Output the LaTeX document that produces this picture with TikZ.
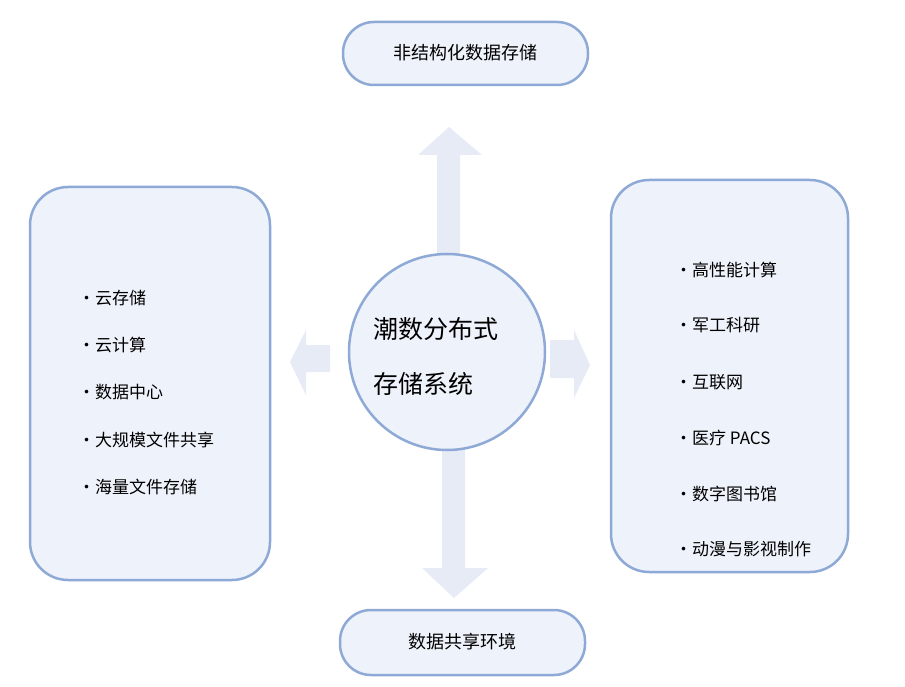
\documentclass[tikz,border=0pt]{standalone}
\usepackage{fontspec}
\setmainfont{Noto Sans CJK SC}
\begin{document}
\begin{tikzpicture}[x=1pt,y=-1pt,
  box/.style={draw=bd,line width=2.5pt,fill=fl,rounded corners=38pt},
  pill/.style={draw=bd,line width=2.5pt,fill=fl,rounded corners=31pt},
  arr/.style={fill=ar,draw=none},
  item/.style={anchor=west,font=\fontsize{17}{20}\selectfont,inner sep=0pt},
  lbl/.style={font=\fontsize{18}{22}\selectfont,inner sep=0pt}]
\definecolor{bd}{HTML}{8EA9D6}
\definecolor{fl}{HTML}{EEF2FA}
\definecolor{ar}{HTML}{E6EBF6}
\useasboundingbox (0,0) rectangle (905,687);
\fill[white] (0,0) rectangle (905,687);
% arrows
\fill[arr] (437,260) -- (437,155) -- (418,155) -- (449,127) -- (482,155) -- (460,155) -- (460,260) -- cycle;
\fill[arr] (442,440) -- (442,568) -- (422,568) -- (454,598) -- (488,568) -- (465,568) -- (465,440) -- cycle;
\fill[arr] (330,345) -- (306,345) -- (306,330) -- (290,362) -- (306,395) -- (306,372) -- (330,372) -- cycle;
\fill[arr] (550,340) -- (574,340) -- (574,330) -- (590,365) -- (574,398) -- (574,378) -- (550,378) -- cycle;
% boxes
\draw[box] (30,187) rectangle (270,580);
\draw[box] (611,180) rectangle (848,572);
\draw[pill] (343,22) rectangle (588,85);
\draw[pill] (340,610) rectangle (585,675);
\node[lbl] (top) at (465.5,53) {非结构化数据存储};
\node[lbl] (bot) at (462.5,642) {数据共享环境};
\node[draw=bd,line width=2.5pt,fill=fl,circle,minimum size=196pt,inner sep=0pt] (c) at (447,352) {};
\node[anchor=west,align=left,font=\fontsize{25}{55}\selectfont,inner sep=0pt] (ct) at (373,356) {潮数分布式\\存储系统};
\foreach \t/\y [count=\i] in {云存储/298,云计算/345,数据中心/392,大规模文件共享/440,海量文件存储/487}
  \node[item] (l\i) at (78,\y) {•\t};
\foreach \t/\y [count=\i] in {高性能计算/270,军工科研/325,互联网/382,医疗 PACS/438,数字图书馆/494,动漫与影视制作/549}
  \node[item] (r\i) at (675,\y) {•\t};
\end{tikzpicture}
\end{document}
